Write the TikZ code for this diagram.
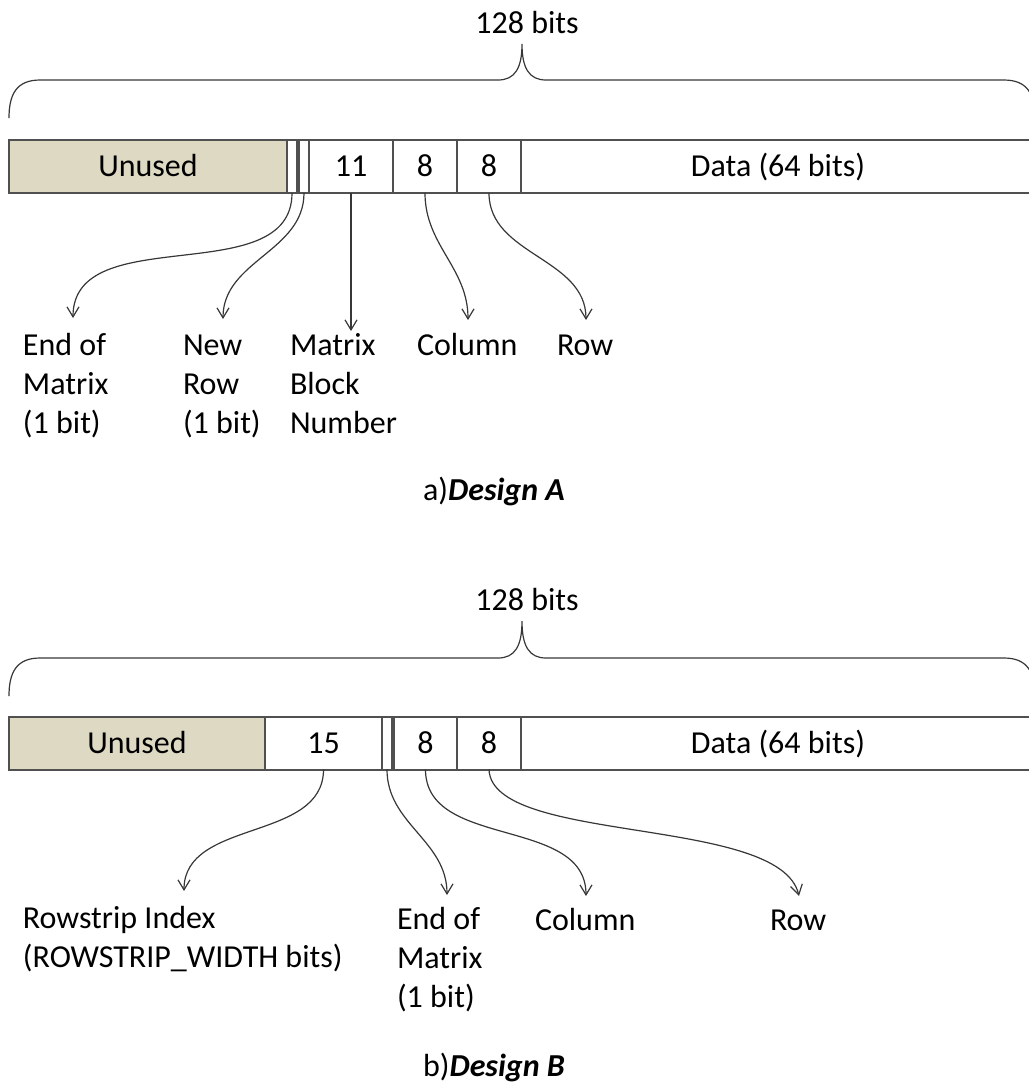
\documentclass[tikz,border=0pt]{standalone}
\usepackage{fontspec}
\setmainfont{Carlito}
\usetikzlibrary{arrows.meta}
\definecolor{unusedtan}{RGB}{221,217,195}
\definecolor{barline}{RGB}{80,80,80}
\definecolor{ptrline}{RGB}{55,55,55}
\begin{document}
\begin{tikzpicture}[x=0.5pt,y=-0.5pt,
  every node/.style={font=\fontsize{16}{19.5}\selectfont, inner sep=0pt, outer sep=0pt},
  field/.style={draw=barline, line width=0.55pt, fill=white, text height=10.3pt, text depth=0pt,
                minimum height=26.5pt, anchor=center},
  unusedfield/.style={field, fill=unusedtan},
  outline/.style={draw=barline, line width=1pt},
  bracepath/.style={draw=ptrline, line width=0.6pt},
  ptr/.style={draw=ptrline, line width=0.6pt, -{Straight Barb[length=5pt,width=6pt]}},
  lbl/.style={anchor=base west, align=left},
  title/.style={anchor=base},
]
\useasboundingbox (0,0) rectangle (1029,1084);

% ---------------- Design A ----------------
\node[title] (totA) at (527,33) {128 bits};
\draw[bracepath] (9,118) .. controls (9,95) and (16,80) .. (40,80) -- (498,80)
  .. controls (515,80) and (522,68) .. (522,44)
  .. controls (522,68) and (529,80) .. (546,80) -- (1004,80)
  .. controls (1028,80) and (1035,95) .. (1035,118);

\node[unusedfield, minimum width=139pt] (unA)   at (148,166.5) {Unused};
\node[field, minimum width=5pt]   (eomA)  at (292,166.5) {};
\node[field, minimum width=5pt]   (nrA)   at (304,166.5) {};
\node[field, minimum width=42pt]  (blkA)  at (351,166.5) {11};
\node[field, minimum width=32pt]  (colA)  at (425,166.5) {8};
\node[field, minimum width=32pt]  (rowA)  at (489,166.5) {8};
\node[field, minimum width=257pt] (dataA) at (778,166.5) {Data (64 bits)};
\draw[outline] (9,140) rectangle (1035,193);

\coordinate (tEomA) at (73,318);
\coordinate (tNrA)  at (223,319);
\coordinate (tBlkA) at (351,331);
\coordinate (tColA) at (468,320);
\coordinate (tRowA) at (586,320);

\draw[ptr] (eomA.south) to[out=-90,in=90] (tEomA);
\draw[ptr] (nrA.south)  to[out=-90,in=90] (tNrA);
\draw[ptr] (blkA.south) -- (tBlkA);
\draw[ptr] (colA.south) to[out=-90,in=90] (tColA);
\draw[ptr] (rowA.south) to[out=-90,in=90] (tRowA);

% multi-line labels are anchored at the baseline of their last line
\node[lbl] (lEomA) at (23,433)  {End of\\Matrix\\(1 bit)};
\node[lbl] (lNrA)  at (183,433) {New\\Row\\(1 bit)};
\node[lbl] (lBlkA) at (290,433) {Matrix\\Block\\Number};
\node[lbl] (lColA) at (417,355) {Column};
\node[lbl] (lRowA) at (557,355) {Row};

\node[title] (capA) at (494,500) {a)\textbf{\textit{Design A}}};

% ---------------- Design B ----------------
\node[title] (totB) at (527,610) {128 bits};
\draw[bracepath] (9,696) .. controls (9,673) and (16,658) .. (40,658) -- (498,658)
  .. controls (515,658) and (522,646) .. (522,621)
  .. controls (522,646) and (529,658) .. (546,658) -- (1004,658)
  .. controls (1028,658) and (1035,673) .. (1035,696);

\node[unusedfield, minimum width=128pt] (unB)   at (137,743) {Unused};
\node[field, minimum width=58.5pt] (rsB)  at (323.5,743) {15};
\node[field, minimum width=5pt]    (eomB) at (387,743) {};
\node[field, minimum width=31.5pt] (colB) at (425.5,743) {8};
\node[field, minimum width=32pt]   (rowB) at (489,743) {8};
\node[field, minimum width=257pt]  (dataB) at (778,743) {Data (64 bits)};
\draw[outline] (9,716.5) rectangle (1035,769.5);

\coordinate (tRsB)  at (184,891);
\coordinate (tEomB) at (447,895);
\coordinate (tColB) at (586,896);
\coordinate (tRowB) at (799,896);

\draw[ptr] (rsB.south)  to[out=-90,in=90] (tRsB);
\draw[ptr] (eomB.south) to[out=-90,in=90] (tEomB);
\draw[ptr] (colB.south) to[out=-90,in=90] (tColB);
\draw[ptr] (rowB.south) .. controls (492,845) and (780,815) .. (tRowB);

\node[lbl] (lRsB)  at (23,967)  {Rowstrip Index\\(ROWSTRIP\_WIDTH bits)};
\node[lbl] (lEomB) at (397,1007) {End of\\Matrix\\(1 bit)};
\node[lbl] (lColB) at (535,930) {Column};
\node[lbl] (lRowB) at (770,930) {Row};

\node[title] (capB) at (494,1076) {b)\textbf{\textit{Design B}}};
\end{tikzpicture}
\end{document}
